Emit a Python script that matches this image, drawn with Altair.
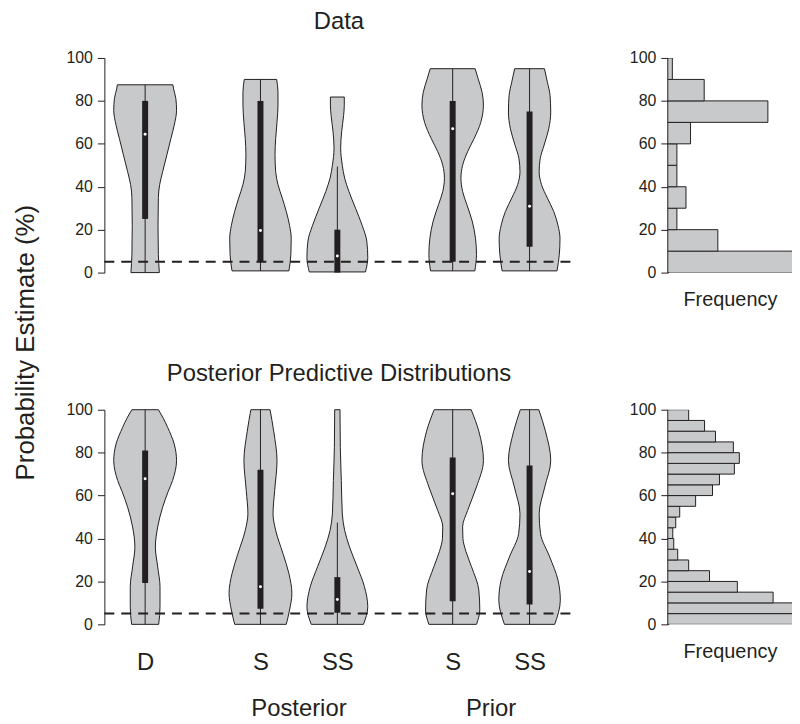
import altair as alt
import pandas as pd

FONT = "Liberation Sans"
INK = "#231f20"
FILL = "#c8c9cb"

# ---------------- categories ----------------
violin_ids = ["D", "PostS", "PostSS", "PriorS", "PriorSS"]
violin_labels = ["D", "S", "SS", "S", "SS"]
violin_pos = [0.0, 1.5, 2.5, 4.0, 5.0]
condition_names = ["Posterior", "Prior"]
condition_pos = [2.0, 4.5]

# ---------------- Data row: violin outlines (estimate %, relative half-width) ----------------
data_D_est = [0, 8.5, 22, 35, 41, 47, 55, 62.5, 68.7, 75.6, 81, 85.6, 87.5]
data_D_w = [0.43, 0.40, 0.39, 0.40, 0.44, 0.53, 0.66, 0.78, 0.88, 0.95, 0.93, 0.86, 0.84]
data_PostS_est = [0.8, 8.5, 16, 22, 28.5, 34.7, 41, 47, 55, 62.5, 70, 78, 84, 90]
data_PostS_w = [0.86, 0.92, 0.93, 0.88, 0.78, 0.66, 0.53, 0.46, 0.44, 0.46, 0.50, 0.53, 0.53, 0.49]
data_PostSS_est = [0.3, 7, 14.7, 22, 30, 37.8, 44, 50, 58, 65.6, 73.3, 78, 81.8]
data_PostSS_w = [0.85, 0.92, 0.89, 0.75, 0.55, 0.35, 0.22, 0.15, 0.10, 0.13, 0.19, 0.21, 0.21]
data_PriorS_est = [0.8, 8.5, 16, 24, 31.6, 37.8, 44, 50, 56.3, 62.5, 70, 78, 84, 90.3, 95]
data_PriorS_w = [0.67, 0.72, 0.69, 0.59, 0.43, 0.30, 0.25, 0.30, 0.45, 0.65, 0.85, 0.93, 0.89, 0.77, 0.68]
data_PriorSS_est = [0.8, 8.5, 16, 22, 28.5, 34.7, 41, 47, 53, 59.4, 67, 74.8, 82.5, 88.7, 95]
data_PriorSS_w = [0.83, 0.90, 0.92, 0.86, 0.73, 0.54, 0.36, 0.29, 0.32, 0.44, 0.58, 0.64, 0.62, 0.54, 0.45]

# ---------------- Posterior predictive row ----------------
ppd_D_est = [0, 8.2, 17.5, 26.8, 36, 45.4, 54.6, 62, 67, 76.3, 84, 91.8, 96, 100]
ppd_D_w = [0.41, 0.45, 0.45, 0.38, 0.31, 0.38, 0.53, 0.70, 0.83, 0.95, 0.88, 0.68, 0.55, 0.40]
ppd_PostS_est = [0, 6.7, 14.4, 23.7, 33, 43.8, 51.5, 62.4, 76.3, 90, 100]
ppd_PostS_w = [0.78, 0.88, 0.95, 0.86, 0.68, 0.46, 0.38, 0.43, 0.50, 0.40, 0.29]
ppd_PostSS_est = [0, 8.2, 17.5, 26.8, 36, 43.8, 51.5, 67, 82.5, 100]
ppd_PostSS_w = [0.79, 0.92, 0.82, 0.60, 0.37, 0.22, 0.15, 0.12, 0.09, 0.08]
ppd_PriorS_est = [0, 6.7, 16, 26.8, 34, 40, 45.4, 53, 64, 76.3, 90, 100]
ppd_PriorS_w = [0.72, 0.82, 0.79, 0.57, 0.40, 0.31, 0.30, 0.45, 0.72, 0.93, 0.79, 0.56]
ppd_PriorSS_est = [0, 11.3, 20.6, 31.4, 42.3, 51.5, 64, 76.3, 90, 100]
ppd_PriorSS_w = [0.76, 0.93, 0.86, 0.61, 0.33, 0.29, 0.46, 0.64, 0.48, 0.28]

# ---------------- box summaries: whisker low/high, quartiles, median ----------------
data_lo = [0, 0.8, 0.3, 0.8, 0.8]
data_hi = [87.5, 90, 49.4, 95, 95]
data_q1 = [25, 5, 0, 5, 12]
data_q3 = [80, 80, 20, 80, 75]
data_med = [64.5, 19.6, 7.7, 67, 30.9]

ppd_lo = [0, 0, 0, 0, 0]
ppd_hi = [100, 100, 47.4, 100, 100]
ppd_q1 = [19.3, 7.3, 5.4, 10.8, 9.3]
ppd_q3 = [81, 72, 22, 77.7, 74]
ppd_med = [67.8, 17.5, 11.6, 60.8, 24.6]

chance_level = [5]

# ---------------- histograms ----------------
data_bin_lo = [0, 10, 20, 30, 40, 50, 60, 70, 80, 90]
data_freq = [35, 11, 2, 4, 2, 2, 5, 22, 8, 1]
ppd_bin_lo = [0, 5, 10, 15, 20, 25, 30, 35, 40, 45, 50, 55, 60, 65, 70, 75, 80, 85, 90, 95]
ppd_freq = [1500, 1280, 1060, 700, 420, 210, 100, 60, 50, 80, 120, 280, 450, 520, 670, 720, 660, 480, 370, 210]

# ---------------- layout constants ----------------
VW, VH = 472, 216
HW = 125
X_DOMAIN = [-0.53, 5.57]
WSCALE = 0.43


def profile_frame(ests, ws):
    rows = []
    for vid, pos, e, w in zip(violin_ids, violin_pos, ests, ws):
        for ee, ww in zip(e, w):
            rows.append({"vid": vid, "pos": pos, "est": ee, "w": ww})
    return pd.DataFrame(rows)


data_prof = profile_frame([data_D_est, data_PostS_est, data_PostSS_est, data_PriorS_est, data_PriorSS_est],
                          [data_D_w, data_PostS_w, data_PostSS_w, data_PriorS_w, data_PriorSS_w])
ppd_prof = profile_frame([ppd_D_est, ppd_PostS_est, ppd_PostSS_est, ppd_PriorS_est, ppd_PriorSS_est],
                         [ppd_D_w, ppd_PostS_w, ppd_PostSS_w, ppd_PriorS_w, ppd_PriorSS_w])

data_stats = pd.DataFrame({"vid": violin_ids, "pos": violin_pos, "lo": data_lo, "hi": data_hi,
                           "q1": data_q1, "q3": data_q3, "med": data_med})
ppd_stats = pd.DataFrame({"vid": violin_ids, "pos": violin_pos, "lo": ppd_lo, "hi": ppd_hi,
                          "q1": ppd_q1, "q3": ppd_q3, "med": ppd_med})

label_expr = " : ".join(
    f"datum.value == {p} ? '{l}'" for p, l in zip(violin_pos[:-1], violin_labels[:-1])
) + f" : '{violin_labels[-1]}'"

yscale = alt.Scale(domain=[0, 100], nice=False, zero=False)
xscale = alt.Scale(domain=X_DOMAIN, nice=False, zero=False)


def y_axis(width=1):
    return alt.Axis(values=[0, 20, 40, 60, 80, 100], title=None, grid=False, tickSize=7,
                    labelFontSize=16, labelPadding=5, domainWidth=width, tickWidth=1,
                    domainColor=INK, tickColor=INK, labelColor=INK, labelFont=FONT)


def violin_panel(prof, stats, title, bottom):
    if bottom:
        xaxis = alt.Axis(values=violin_pos, labelExpr=label_expr, title=None, grid=False,
                         domain=False, ticks=False, tickSize=0, labelPadding=26, labelFontSize=24,
                         labelFont=FONT, labelColor=INK)
    else:
        xaxis = None
    area = alt.Chart(prof).transform_calculate(
        left=f"datum.pos - datum.w * {WSCALE}", right=f"datum.pos + datum.w * {WSCALE}"
    ).mark_area(orient="horizontal", interpolate="monotone", fill=FILL, stroke=INK,
                strokeWidth=1, opacity=1).encode(
        y=alt.Y("est:Q", scale=yscale, axis=y_axis()),
        x=alt.X("left:Q", scale=xscale, axis=xaxis, stack=None),
        x2="right:Q",
        detail="vid:N",
    )
    sbase = alt.Chart(stats)
    whisk = sbase.mark_rule(color=INK, strokeWidth=1).encode(
        x=alt.X("pos:Q", scale=xscale), y="lo:Q", y2="hi:Q")
    box = sbase.mark_rule(color=INK, strokeWidth=6).encode(
        x=alt.X("pos:Q", scale=xscale), y="q1:Q", y2="q3:Q")
    med = sbase.mark_circle(color="white", size=9, opacity=1).encode(
        x=alt.X("pos:Q", scale=xscale), y="med:Q")
    chance = alt.Chart(pd.DataFrame({"c": chance_level})).mark_rule(
        color=INK, strokeWidth=2, strokeDash=[10, 7]).encode(
        y="c:Q", x=alt.datum(X_DOMAIN[0]), x2=alt.datum(X_DOMAIN[1]))
    layers = [area, whisk, box, med, chance]
    if bottom:
        cond = alt.Chart(pd.DataFrame({"name": condition_names, "pos": condition_pos})).mark_text(
            fontSize=24, font=FONT, color=INK, baseline="middle").encode(
            x=alt.X("pos:Q", scale=xscale), y=alt.value(VH + 85), text="name:N")
        layers.append(cond)
    return alt.layer(*layers).properties(
        width=VW, height=VH,
        title=alt.Title(title, fontSize=24, font=FONT, fontWeight="normal", color=INK, offset=16))


def hist_panel(bin_lo, freq, width_bin, xmax):
    df = pd.DataFrame({"lo": bin_lo, "freq": freq})
    return alt.Chart(df).transform_calculate(hi=f"datum.lo + {width_bin}").mark_rect(
        fill=FILL, stroke=INK, strokeWidth=1, clip=True).encode(
        y=alt.Y("lo:Q", scale=yscale, axis=y_axis(2)),
        y2="hi:Q",
        x=alt.X("freq:Q", scale=alt.Scale(domain=[0, xmax], nice=False),
                axis=alt.Axis(title="Frequency", labels=False, ticks=False, domain=False, grid=False,
                              titleFontSize=20, titleFont=FONT, titleFontWeight="normal",
                              titleColor=INK, titlePadding=17)),
        x2=alt.datum(0),
    ).properties(width=HW, height=VH)


row1 = alt.hconcat(
    violin_panel(data_prof, data_stats, "Data", False),
    hist_panel(data_bin_lo, data_freq, 10, 27.3),
    spacing=55,
)
row2 = alt.hconcat(
    violin_panel(ppd_prof, ppd_stats, "Posterior Predictive Distributions", True),
    hist_panel(ppd_bin_lo, ppd_freq, 5, 1250),
    spacing=55,
)

chart = alt.vconcat(row1, row2, spacing=53).properties(
    title=alt.Title("Probability Estimate (%)", orient="left", anchor="middle", fontSize=26,
                    font=FONT, fontWeight="normal", color=INK, offset=27, dx=23),
    padding={"left": 5, "top": 0, "right": 0, "bottom": 0},
).configure(font=FONT).configure_view(stroke=None)

chart.save("out.html", embed_options={"renderer": "svg", "actions": False})
